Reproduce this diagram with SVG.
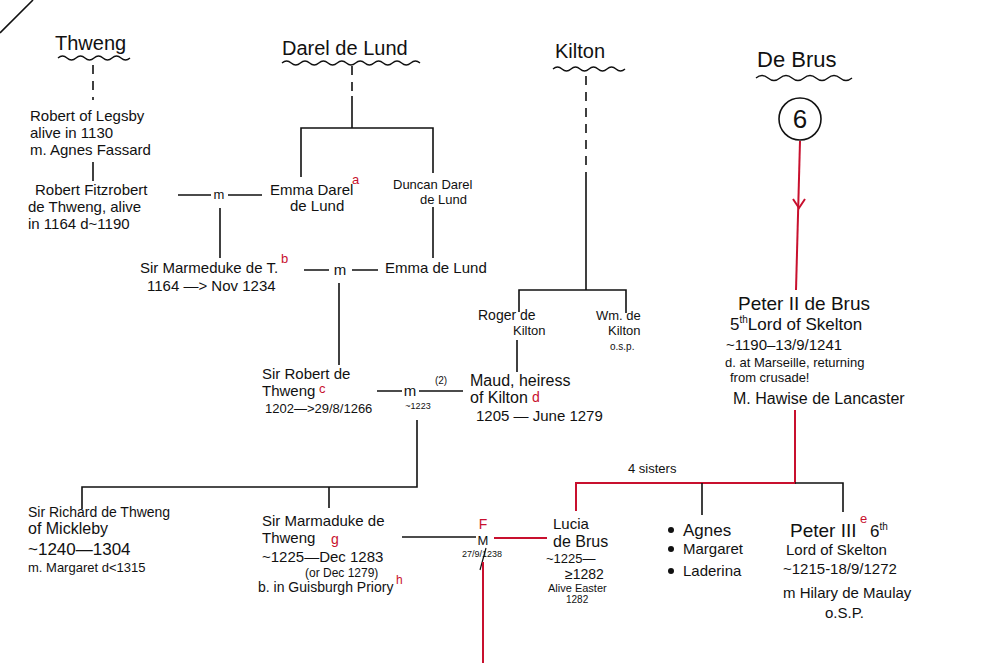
<svg xmlns="http://www.w3.org/2000/svg" width="993" height="663" viewBox="0 0 993 663">
<style>
text{font-family:"Liberation Sans","DejaVu Sans",sans-serif;fill:#111;font-size:15px}
.h{font-size:20px}
.s{font-size:13px}
.xs{font-size:10px}
.red{fill:#c8102e}
.ln{stroke:#111;stroke-width:1.6;fill:none}
.dash{stroke:#111;stroke-width:1.6;fill:none;stroke-dasharray:9 7}
.rl{stroke:#c8102e;stroke-width:2;fill:none}
.wave{stroke:#111;stroke-width:1.4;fill:none}
</style>
<rect width="993" height="663" fill="#fff"/>
<path class="ln" d="M0,33 L33,0"/>

<g id="hdr-thweng"><text class="h" x="55" y="50">Thweng</text><path class="wave" d="M58,58 q4.5,-4 9,0 t9,0 t9,0 t9,0 t9,0 t9,0 t9,0 t9,0"/></g>
<g id="hdr-darel"><text class="h" x="282" y="55">Darel de Lund</text><path class="wave" d="M282,63 q4.6,-4 9.2,0 t9.2,0 t9.2,0 t9.2,0 t9.2,0 t9.2,0 t9.2,0 t9.2,0 t9.2,0 t9.2,0 t9.2,0 t9.2,0 t9.2,0 t9.2,0 t9.2,0"/></g>
<g id="hdr-kilton"><text class="h" x="555" y="58">Kilton</text><path class="wave" d="M553,69 q4.5,-4 9,0 t9,0 t9,0 t9,0 t9,0 t9,0 t9,0 t9,0"/></g>
<g id="hdr-debrus"><text x="757" y="67" style="font-size:22px">De Brus</text><path class="wave" d="M756,78 q6,-5 12,0 t12,0 t12,0 t12,0 t12,0 t12,0 t12,0 t12,0"/></g>
<g id="n-six"><circle cx="800" cy="119" r="21" class="ln"/><text x="800" y="128" text-anchor="middle" style="font-size:26px">6</text></g>

<g id="connectors">
<path class="dash" d="M93,65 V100"/>
<path class="ln" d="M93,162 V181"/>
<path class="dash" d="M352,66 V96"/>
<path class="ln" d="M352,96 V128 M301,177 V128 H433 V173"/>
<path class="ln" d="M178,195 H211 M228,195 H262"/>
<text x="219" y="199" text-anchor="middle" class="s">m</text>
<path class="ln" d="M220,208 V258"/>
<path class="ln" d="M433,207 V258"/>
<path class="ln" d="M304,270 H329 M352,270 H378"/>
<text x="340" y="275" text-anchor="middle">m</text>
<path class="ln" d="M339,283 V365"/>
<path class="dash" d="M586,76 V172"/>
<path class="ln" d="M586,172 V290 M519,312 V290 H626 V313"/>
<path class="ln" d="M517,340 V372"/>
<path class="ln" d="M377,391 H402 M419,391 H463"/>
<text x="410" y="396" text-anchor="middle">m</text>
<text x="441" y="384" text-anchor="middle" class="xs">(2)</text>
<text x="418" y="409" text-anchor="middle" style="font-size:9px">~1223</text>
<path class="ln" d="M417,420 V487 H82 V509 M329,487 V508"/>
<path class="ln" d="M402,537 H476"/>
<path class="rl" d="M494,538 H547"/>
<text x="483" y="529" text-anchor="middle" class="red" style="font-size:14px">F</text>
<text x="483" y="545" text-anchor="middle" class="s">M</text>
<text x="482" y="557" text-anchor="middle" style="font-size:9px">27/9/1238</text>
<path class="ln" d="M486,548 L480,570" style="stroke-width:1.2"/>
<path class="rl" d="M483,562 V663"/>
<path class="rl" d="M800,141 L796,290"/>
<path class="rl" d="M793,199 L799,208 L805,199"/>
<path class="rl" d="M795,410 V483 H576 V511"/>
<path class="ln" d="M795,483 H843 V512 M702,483 V515"/>
<text x="628" y="473" class="s">4 sisters</text>
</g>

<g id="n-robert-legsby"><text x="30" y="121">Robert of Legsby</text><text x="30" y="138">alive in 1130</text><text x="30" y="155">m. Agnes Fassard</text></g>
<g id="n-robert-fitz"><text x="35" y="195">Robert Fitzrobert</text><text x="28" y="212">de Thweng, alive</text><text x="28" y="229">in 1164 d~1190</text></g>
<g id="n-emma-darel"><text x="270" y="195">Emma Darel</text><text x="352" y="184" class="red s">a</text><text x="290" y="211">de Lund</text></g>
<g id="n-duncan"><text x="393" y="189" class="s">Duncan Darel</text><text x="420" y="204" class="s">de Lund</text></g>
<g id="n-marmeduke"><text x="140" y="273">Sir Marmeduke de T.</text><text x="281" y="263" class="red s">b</text><text x="147" y="291">1164 —&gt; Nov 1234</text></g>
<g id="n-emma-lund"><text x="385" y="273">Emma de Lund</text></g>
<g id="n-roger"><text x="478" y="320" style="font-size:14px">Roger de</text><text x="513" y="335" class="s">Kilton</text></g>
<g id="n-wm"><text x="596" y="320" class="s">Wm. de</text><text x="608" y="335" class="s">Kilton</text><text x="610" y="350" class="xs">o.s.p.</text></g>
<g id="n-robert-thweng"><text x="262" y="379">Sir Robert de</text><text x="262" y="396">Thweng</text><text x="319" y="393" class="red s">c</text><text x="265" y="413" class="s">1202—&gt;29/8/1266</text></g>
<g id="n-maud"><text x="470" y="386" style="font-size:16px">Maud, heiress</text><text x="470" y="403" style="font-size:16px">of Kilton</text><text x="532" y="402" class="red" style="font-size:14px">d</text><text x="476" y="421">1205 — June 1279</text></g>
<g id="n-peter2"><text x="738" y="310" style="font-size:19px">Peter II de Brus</text><text x="730" y="330" style="font-size:17px">5<tspan dy="-7" style="font-size:10px">th</tspan><tspan dy="7">Lord of Skelton</tspan></text><text x="726" y="350">~1190–13/9/1241</text><text x="725" y="367" class="s">d. at Marseille, returning</text><text x="730" y="382" class="s">from crusade!</text><text x="733" y="404" style="font-size:16px">M. Hawise de Lancaster</text></g>
<g id="n-richard"><text x="28" y="517" style="font-size:14px">Sir Richard de Thweng</text><text x="28" y="534" style="font-size:16px">of Mickleby</text><text x="28" y="555" style="font-size:17px">~1240—1304</text><text x="28" y="572" class="s">m. Margaret d&lt;1315</text></g>
<g id="n-marmaduke"><text x="262" y="526">Sir Marmaduke de</text><text x="262" y="543">Thweng</text><text x="331" y="544" class="red" style="font-size:14px">g</text><text x="262" y="562">~1225—Dec 1283</text><text x="305" y="577" style="font-size:12px">(or Dec 1279)</text><text x="258" y="592" style="font-size:14px">b. in Guisburgh Priory</text><text x="396" y="584" class="red" style="font-size:12px">h</text></g>
<g id="n-lucia"><text x="553" y="529">Lucia</text><text x="553" y="547" style="font-size:16px">de Brus</text><text x="546" y="563" class="s">~1225—</text><text x="565" y="579" style="font-size:14px">≥1282</text><text x="548" y="592" style="font-size:11px">Alive Easter</text><text x="566" y="603" class="xs">1282</text></g>
<g id="n-sisters"><circle cx="671" cy="530" r="3" fill="#111"/><circle cx="671" cy="549" r="3" fill="#111"/><circle cx="671" cy="571" r="3" fill="#111"/><text x="683" y="536" style="font-size:17px">Agnes</text><text x="683" y="554">Margaret</text><text x="683" y="576">Laderina</text></g>
<g id="n-peter3"><text x="790" y="537" style="font-size:19px">Peter III</text><text x="860" y="523" class="red s">e</text><text x="870" y="537" style="font-size:17px">6<tspan dy="-7" style="font-size:10px">th</tspan></text><text x="786" y="555">Lord of Skelton</text><text x="783" y="574">~1215-18/9/1272</text><text x="783" y="598">m Hilary de Maulay</text><text x="825" y="618">o.S.P.</text></g>
</svg>
